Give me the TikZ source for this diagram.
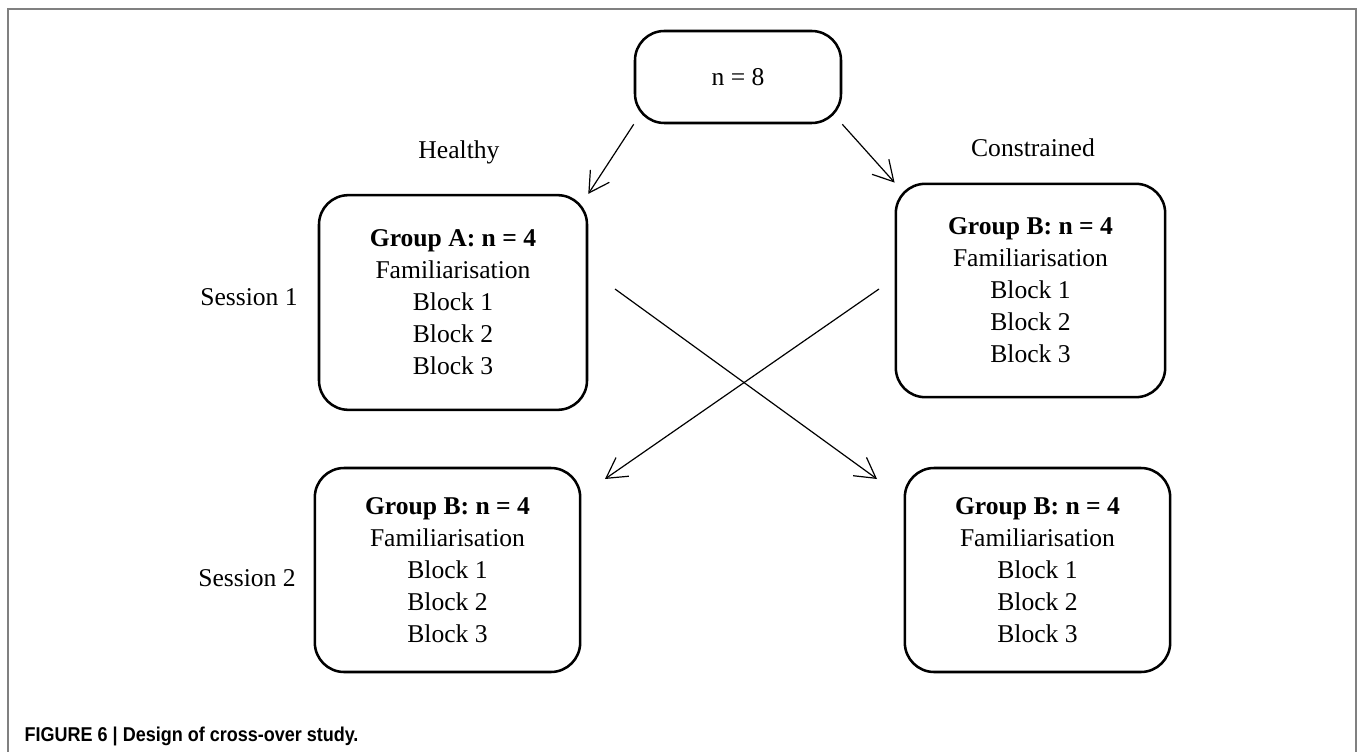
\documentclass[tikz,border=0pt]{standalone}
\usepackage{fontspec}
\setmainfont{Liberation Serif}
\newfontfamily\capfont{Liberation Sans}
\usetikzlibrary{arrows.meta}

\begin{document}
\begin{tikzpicture}[x=0.75pt,y=-0.75pt,
  grp/.style={draw, line width=1.9pt, rounded corners=22pt, align=center,
    inner sep=0pt, font=\fontsize{19.2pt}{24pt}\selectfont},
  lbl/.style={font=\fontsize{19.2pt}{24pt}\selectfont},
  arr/.style={-{Straight Barb[length=15pt,width=17pt]}, line width=0.9pt}]
  \useasboundingbox (0,0) rectangle (1360,752);
  \draw [gray, line width=1.1pt] (8,752) -- (8,9) -- (1356,9) -- (1356,752);
  \node [grp, minimum width=154.5pt, minimum height=69pt] at (738,77) (n0) {n = 8};
  \node [grp, minimum width=201pt, minimum height=161pt] at (453,302.5) (n1)
    {\textbf{Group A: n = 4}\\ Familiarisation\\ Block 1\\ Block 2\\ Block 3};
  \node [grp, minimum width=202pt, minimum height=160pt] at (1030.5,290.5) (n2)
    {\textbf{Group B: n = 4}\\ Familiarisation\\ Block 1\\ Block 2\\ Block 3};
  \node [grp, minimum width=199pt, minimum height=153pt] at (447.5,570) (n3)
    {\textbf{Group B: n = 4}\\ Familiarisation\\ Block 1\\ Block 2\\ Block 3};
  \node [grp, minimum width=199pt, minimum height=153pt] at (1037.5,570) (n4)
    {\textbf{Group B: n = 4}\\ Familiarisation\\ Block 1\\ Block 2\\ Block 3};
  \node [lbl] at (459,152) (l1) {Healthy};
  \node [lbl] at (1033,148) (l2) {Constrained};
  \node [lbl] at (249,297) (l3) {Session 1};
  \node [lbl] at (247,578) (l4) {Session 2};
  \node [anchor=base west, font=\capfont\bfseries\fontsize{15pt}{17pt}\selectfont]
    at (20,741) (cap) {\scalebox{0.9}[1]{FIGURE 6 | Design of cross-over study.}};
  \coordinate (c1) at (615,289);
  \coordinate (c2) at (877,479);
  \coordinate (c3) at (879,289);
  \coordinate (c4) at (605,479);
  \draw [arr] (n0.south west) -- (n1.north east);
  \draw [arr] (n0.south east) -- (n2.north west);
  \draw [arr] (c1) -- (c2);
  \draw [arr] (c3) -- (c4);
\end{tikzpicture}
\end{document}
